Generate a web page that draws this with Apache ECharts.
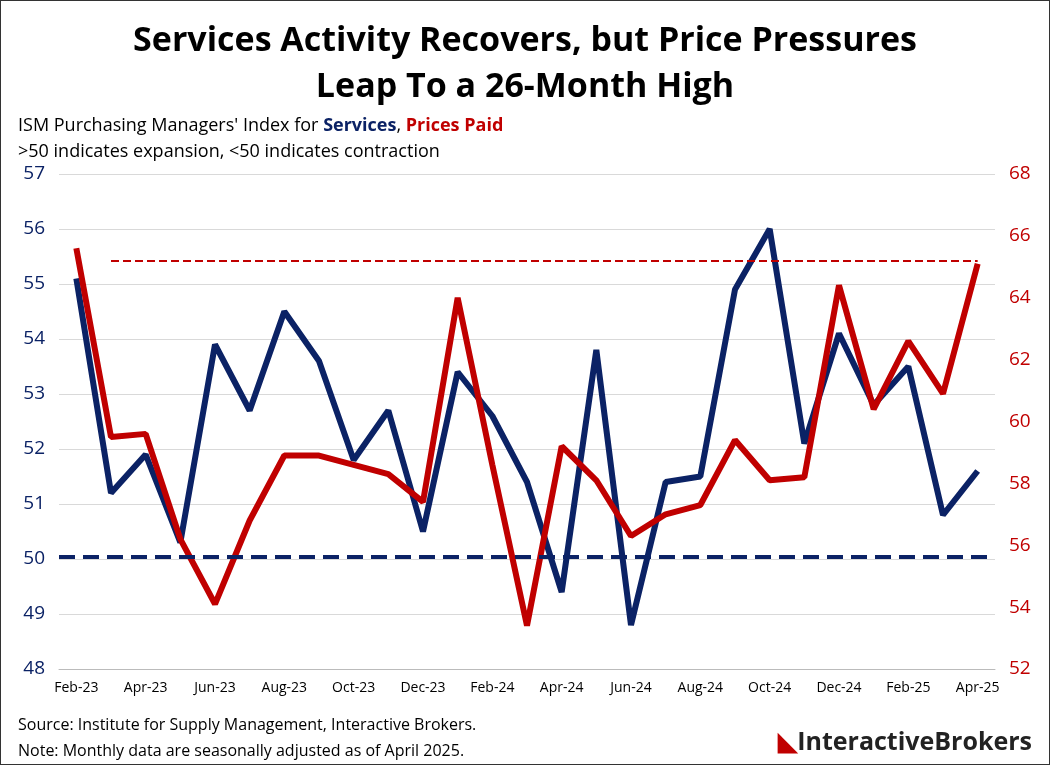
<!DOCTYPE html>
<html>
<head>
<meta charset="UTF-8">
<style>
  html, body { margin: 0; padding: 0; background: #fff; }
  #chart { width: 1048px; height: 763px; border: 1px solid #333; }
</style>
<script src="https://cdn.jsdelivr.net/npm/echarts@6/dist/echarts.min.js"></script>
</head>
<body>
<div id="chart"></div>
<script>
// Monthly ISM Services data
const months = ['Feb-23','Mar-23','Apr-23','May-23','Jun-23','Jul-23','Aug-23','Sep-23','Oct-23','Nov-23','Dec-23',
  'Jan-24','Feb-24','Mar-24','Apr-24','May-24','Jun-24','Jul-24','Aug-24','Sep-24','Oct-24','Nov-24','Dec-24',
  'Jan-25','Feb-25','Mar-25','Apr-25'];
const services = [55.1,51.2,51.9,50.3,53.9,52.7,54.5,53.6,51.8,52.7,50.5,53.4,52.6,51.4,49.4,53.8,48.8,51.4,51.5,54.9,56.0,52.1,54.1,52.8,53.5,50.8,51.6];
const pricesPaid = [65.6,59.5,59.6,56.2,54.1,56.8,58.9,58.9,58.6,58.3,57.4,64.0,58.6,53.4,59.2,58.1,56.3,57.0,57.3,59.4,58.1,58.2,64.4,60.4,62.6,60.9,65.1];
const expansionLine = 50.05;
const priceHighLine = 65.2;

const blue = '#0b2265', red = '#c00000';
const chart = echarts.init(document.getElementById('chart'));
chart.setOption({
  animation: false,
  textStyle: { fontFamily: 'Open Sans, Noto Sans, sans-serif' },
  title: [{
    text: 'Services Activity Recovers, but Price Pressures\nLeap To a 26-Month High',
    left: 'center', top: 12,
    textStyle: { fontSize: 34, fontWeight: 'bold', color: '#000', lineHeight: 46, fontFamily: 'Open Sans, sans-serif' }
  }, {
    text: "ISM Purchasing Managers' Index for {b|Services}, {r|Prices Paid}\n>50 indicates expansion, <50 indicates contraction",
    left: 12, top: 107,
    textStyle: { fontSize: 18, color: '#000', fontWeight: 'normal', lineHeight: 26,
      rich: { b: { color: blue, fontWeight: 'bold', fontSize: 18 }, r: { color: red, fontWeight: 'bold', fontSize: 18 } } }
  }, {
    text: 'Source: Institute for Supply Management, Interactive Brokers.\nNote: Monthly data are seasonally adjusted as of April 2025.',
    left: 12, top: 706,
    textStyle: { fontSize: 16, color: '#000', fontWeight: 'normal', lineHeight: 26 }
  }, {
    text: '{i|◣}InteractiveBrokers',
    right: 12, top: 724,
    textStyle: { fontSize: 25, color: '#222', fontWeight: 'bold', rich: { i: { color: red, fontSize: 25 } } }
  }],
  grid: { left: 58, right: 54, top: 173, bottom: 95 },
  xAxis: {
    type: 'category', data: months, boundaryGap: true,
    axisLine: { lineStyle: { color: '#bbb' } },
    axisTick: { show: false },
    axisLabel: { interval: 1, color: '#000', fontSize: 14, margin: 12 }
  },
  yAxis: [{
    type: 'value', min: 48, max: 57, interval: 1,
    axisLine: { show: false }, axisTick: { show: false },
    axisLabel: { color: blue, fontSize: 19, margin: 14 },
    splitLine: { lineStyle: { color: '#d9d9d9' } }
  }, {
    type: 'value', min: 52, max: 68, interval: 2,
    axisLine: { show: false }, axisTick: { show: false },
    axisLabel: { color: red, fontSize: 19, margin: 14 },
    splitLine: { show: false }
  }],
  series: [{
    name: 'Services', type: 'line', data: services, yAxisIndex: 0,
    symbol: 'none', lineStyle: { color: blue, width: 6 },
    markLine: {
      silent: true, symbol: 'none', label: { show: false },
      lineStyle: { color: blue, type: 'dashed', width: 4 },
      data: [{ yAxis: expansionLine }]
    }
  }, {
    name: 'Prices Paid', type: 'line', data: pricesPaid, yAxisIndex: 1,
    symbol: 'none', lineStyle: { color: red, width: 6 },
    markLine: {
      silent: true, symbol: 'none', label: { show: false },
      lineStyle: { color: red, type: 'dashed', width: 2 },
      data: [[{ xAxis: 'Mar-23', yAxis: priceHighLine }, { xAxis: 'Apr-25', yAxis: priceHighLine }]]
    }
  }]
});
</script>
</body>
</html>
